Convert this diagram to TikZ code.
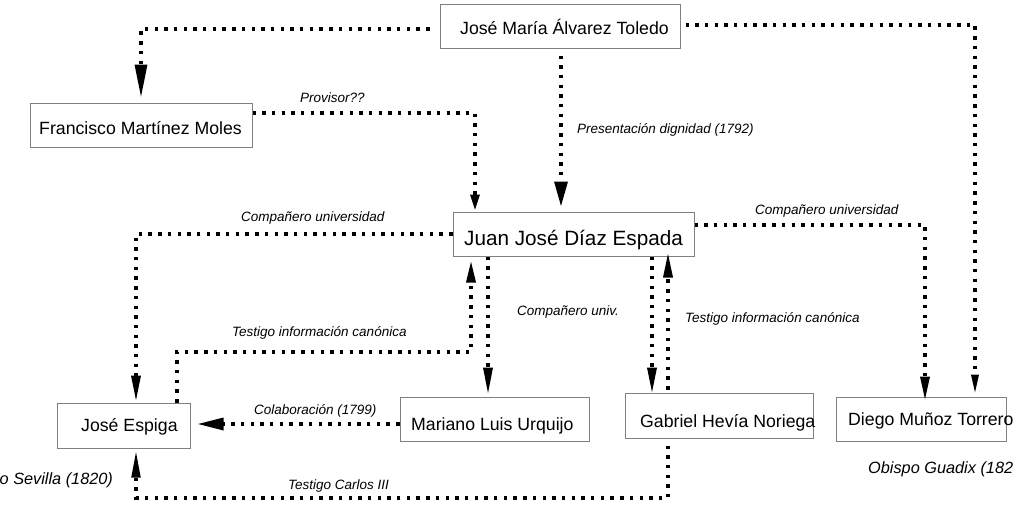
\documentclass[tikz,border=0pt]{standalone}
\usepackage{fontspec}
\setmainfont{Liberation Sans}
\usetikzlibrary{arrows.meta}
\definecolor{boxgray}{RGB}{128,128,128}
\tikzset{
  box/.style={draw=boxgray, line width=1pt, inner sep=0pt, minimum width=#1},
  ntext/.style={anchor=base west, inner sep=0pt, font=\fontsize{17.7}{20}\selectfont},
  btext/.style={anchor=base west, inner sep=0pt, font=\fontsize{20.7}{24}\selectfont},
  lbl/.style={anchor=base west, inner sep=0pt, font=\fontsize{13.5}{16}\selectfont\itshape},
  biglbl/.style={anchor=base west, inner sep=0pt, font=\fontsize{16.3}{19}\selectfont\itshape},
  conn/.style={line width=3.3pt, dash pattern=on 3.4pt off 6.3pt},
  ahead/.style 2 args={-{Triangle[length=#1,width=#2]}}
}
\begin{document}
\begin{tikzpicture}[x=1pt,y=-1pt]
\useasboundingbox (0,0) rectangle (1014,506);
\fill[white] (0,0) rectangle (1014,506);

% boxes
\node[box=240pt, minimum height=44pt] (jmat) at (560,26) {};
\node[box=222pt, minimum height=44pt] (fmm) at (141,125) {};
\node[box=241pt, minimum height=44pt] (jjde) at (573.5,234) {};
\node[box=133pt, minimum height=45pt] (je) at (123.5,425.5) {};
\node[box=189pt, minimum height=44pt] (mlu) at (494.5,419) {};
\node[box=188pt, minimum height=45pt] (ghn) at (719,415.5) {};
\node[box=170pt, minimum height=44pt] (dmt) at (921,419) {};

% box texts
\node[ntext] (jmatt) at (460,34) {José María Álvarez Toledo};
\node[ntext] (fmmt) at (39,134) {Francisco Martínez Moles};
\node[btext] (jjdet) at (464,245) {Juan José Díaz Espada};
\node[ntext] (jet) at (81,431) {José Espiga};
\node[ntext] (mlut) at (411,430) {Mariano Luis Urquijo};
\node[ntext] (ghnt) at (640,427) {Gabriel Hevía Noriega};
\node[ntext] (dmtt) at (848,425) {Diego Muñoz Torrero};

% labels
\node[lbl] (l1) at (300,102) {Provisor??};
\node[lbl] (l2) at (577,133) {Presentación dignidad (1792)};
\node[lbl] (l3) at (241,221) {Compañero universidad};
\node[lbl] (l4) at (755,214) {Compañero universidad};
\node[lbl] (l5) at (232,336.5) {Testigo información canónica};
\node[lbl] (l6) at (517,315) {Compañero univ.};
\node[lbl] (l7) at (685,322) {Testigo información canónica};
\node[lbl] (l8) at (254,414) {Colaboración (1799)};
\node[lbl] (l9) at (288,489) {Testigo Carlos III};
\node[biglbl] (l10) at (-0.5,484.5) {o Sevilla (1820)};
\node[biglbl] (l11) at (868,473.5) {Obispo Guadix (182};

% corner coordinates
\coordinate (c7) at (471,352);
\coordinate (c12) at (136,498);

% connectors
\draw[conn, ahead={33pt}{12pt}] ([xshift=-10pt,yshift=-3pt]jmat.west) -| ([yshift=5pt]fmm.north);
\draw[conn, ahead={16pt}{9pt}] ([yshift=12pt]fmm.east) -| ([xshift=-98.5pt,yshift=1pt]jjde.north);
\draw[conn, ahead={25pt}{13pt}] ([xshift=1pt,yshift=-7pt]jmat.south) -- ([xshift=-12.5pt,yshift=5pt]jjde.north);
\draw[conn, ahead={20pt}{7pt}] ([xshift=5pt,yshift=1pt]jmat.east) -| ([xshift=54pt,yshift=2pt]dmt.north);
\draw[conn, ahead={26pt}{9pt}] (jjde.west) -| ([xshift=12.5pt,yshift=1pt]je.north);
\draw[conn, ahead={24pt}{9pt}] ([yshift=9pt]jjde.east) -| ([xshift=4pt,yshift=-4pt]dmt.north);
\draw[conn, ahead={22pt}{9pt}] ([xshift=53.5pt]je.north) |- (c7) -- ([xshift=-102.5pt,yshift=-4pt]jjde.south);
\draw[conn, ahead={27pt}{9pt}] ([xshift=-85.5pt]jjde.south) -- ([xshift=-6.5pt,yshift=2pt]mlu.north);
\draw[conn, ahead={26pt}{12pt}] ([yshift=-5pt]mlu.west) -- ([xshift=7pt,yshift=1.5pt]je.east);
\draw[conn, ahead={26pt}{9pt}] ([xshift=78.5pt]jjde.south) -- ([xshift=-67pt,yshift=-1pt]ghn.north);
\draw[conn, ahead={25pt}{9pt}] ([xshift=-51pt,yshift=3pt]ghn.north) -- ([xshift=94.5pt,yshift=4pt]jjde.south);
\draw[conn, ahead={27pt}{8.5pt}] ([xshift=-51pt,yshift=-7pt]ghn.south) |- (c12) -- ([xshift=12.5pt,yshift=-2pt]je.south);
\end{tikzpicture}
\end{document}
